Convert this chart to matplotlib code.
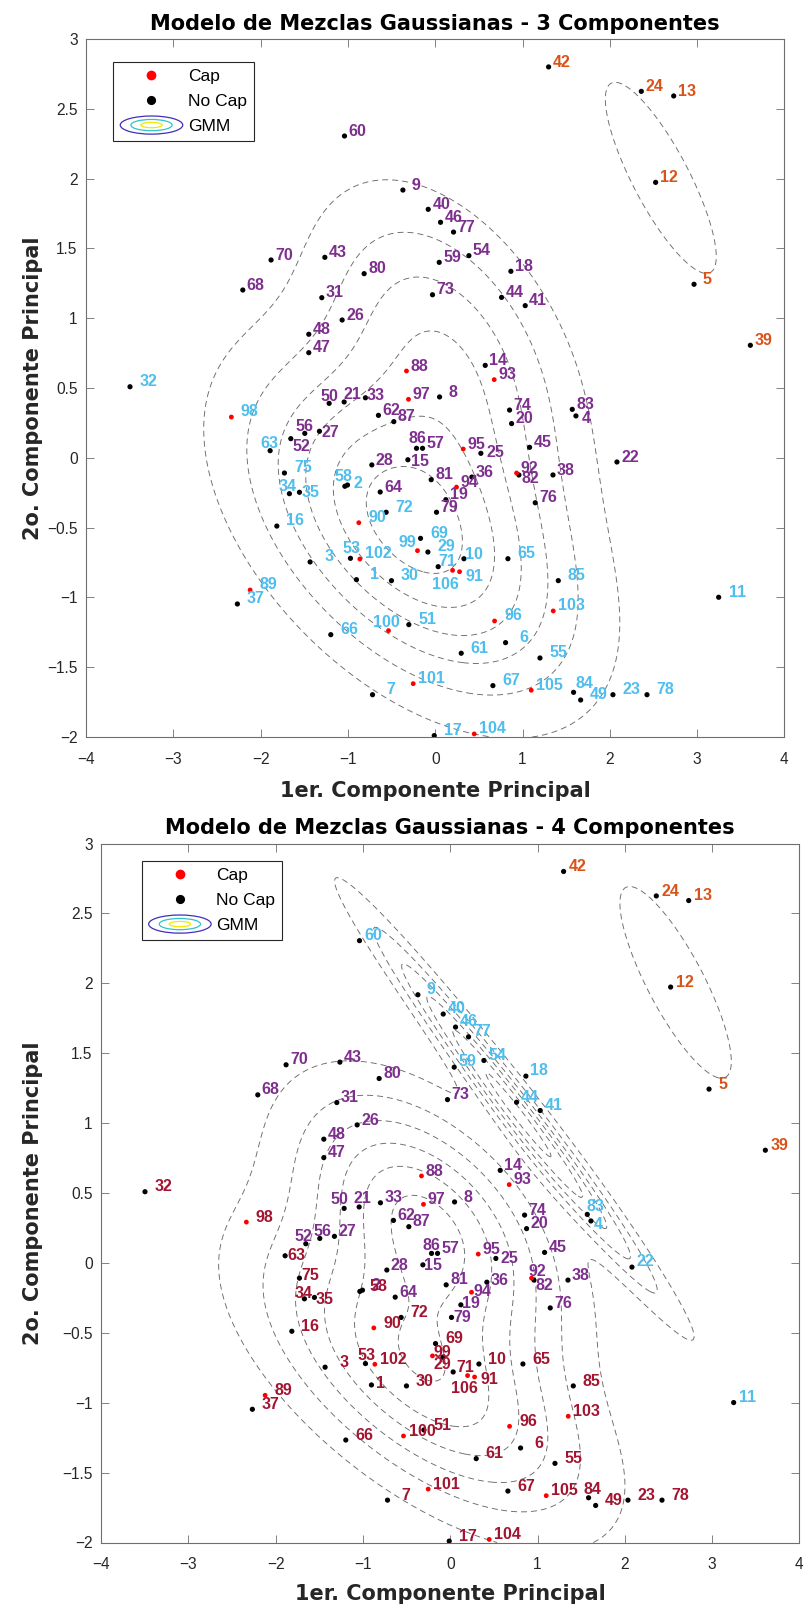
import numpy as np
import matplotlib
matplotlib.use("Agg")
import matplotlib.pyplot as plt
from matplotlib.lines import Line2D
from matplotlib.patches import Ellipse
from matplotlib.legend_handler import HandlerBase
from matplotlib.ticker import FuncFormatter, MultipleLocator

plt.rcParams["font.family"] = ["Liberation Sans", "DejaVu Sans"]
plt.rcParams["axes.unicode_minus"] = False
plt.rcParams["lines.scale_dashes"] = False

# ---------------------------------------------------------------- data
point_id = list(range(1, 107))

pc1 = [-0.902, -1.005, -1.433, 1.612, 2.965, 0.806, -0.718, 0.050, -0.370, 0.329,
       3.247, 2.525, 2.732, 0.573, -0.313, -1.814, -0.011, 0.867, 0.122, 0.875,
       -1.043, 2.082, 2.036, 2.361, 0.523, -1.066, -1.326, -0.726, -0.084, -0.501,
       -1.299, -3.496, -0.799, -1.670, -1.555, 0.420, -2.266, 1.349, 3.610, -0.080,
       1.031, 1.299, -1.264, 0.760, 1.081, 0.061, -1.448, -1.448, 1.666, -1.215,
       -0.302, -1.654, -0.971, 0.386, 1.200, -1.494, -0.145, -1.035, 0.046, -1.039,
       0.298, -0.650, -1.891, -0.630, 0.833, -1.196, 0.661, -2.204, -0.168, -1.880,
       0.034, -0.562, -0.031, 0.852, -1.727, 1.146, 0.210, 2.426, 0.015, -0.814,
       -0.046, 0.959, 1.570, 1.585, 1.410, -0.214, -0.474, -0.329, -2.120, -0.875,
       0.279, 0.932, 0.676, 0.244, 0.321, 0.680, -0.306, -2.335, -0.203, -0.535,
       -0.252, -0.863, 1.352, 0.447, 1.100, 0.199]

pc2 = [-0.873, -0.195, -0.746, 0.300, 1.243, -1.324, -1.697, 0.436, 1.918, -0.723,
       -0.999, 1.973, 2.592, 0.662, -0.014, -0.489, -1.990, 1.336, -0.300, 0.245,
       0.400, -0.030, -1.697, 2.625, 0.032, 0.987, 0.190, -0.051, -0.675, -0.880,
       1.147, 0.509, 0.430, -0.257, -0.247, -0.138, -1.047, -0.123, 0.806, 1.780,
       1.090, 2.800, 1.436, 1.149, 0.075, 1.687, 0.753, 0.885, -1.735, 0.390,
       -1.195, 0.137, -0.720, 1.448, -1.434, 0.175, 0.068, -0.204, 1.400, 2.305,
       -1.400, 0.304, 0.051, -0.245, -0.723, -1.267, -1.632, 1.202, -0.577, 1.417,
       -0.780, -0.390, 1.168, 0.342, -0.109, -0.322, 1.617, -1.697, -0.390, 1.319,
       -0.157, -0.123, 0.347, -1.680, -0.880, 0.068, 0.259, 0.622, -0.947, -0.465,
       -0.816, -0.109, 0.560, -0.210, 0.063, -1.169, 0.419, 0.292, -0.665, -1.238,
       -1.618, -0.725, -1.097, -1.978, -1.665, -0.806]

# 1 = Cap, 0 = No Cap
cap = [0] * 87 + [1] * 19

# cluster of every point: o = orange, p = purple, c = cyan, r = dark red
cluster_k3 = list(
    "cccpoccppc" "cooppccppp" "ppcoppppcc" "pcpccpcpop" "poppppppcp"
    "cpcpcppcpp" "cpcpcccpcp" "ccppcppcpp" "pppccpppcc" "cppppcpccc"
    "cccccc")
cluster_k4 = list(
    "rprcorrpcr" "coopprrcpp" "pcropppprr" "prprrprpoc" "copcpcpprp"
    "rprcrpprcc" "rprprrrprp" "rrpprpcrpp" "ppcrrppprr" "rpppprprrr"
    "rrrrrr")

colors = {"o": "#D95319", "p": "#7E2F8E", "c": "#4DBEEE", "r": "#A2142F"}

legend_labels = ["Cap", "No Cap", "GMM"]
titles = ["Modelo de Mezclas Gaussianas - 3 Componentes",
          "Modelo de Mezclas Gaussianas - 4 Componentes"]
xlabel = "1er. Componente Principal"
ylabel = "2o. Componente Principal"
contour_step = 0.02

# ------------------------------------------------------ label placement
label_offset_k3 = {"o": (13, 6), "p": (13, 6), "c": (18.5, 6.3)}
label_offset_k4 = {"o": (14, 6), "c": (13.5, 6.3), "p": (13, 6), "r": (18.5, 6)}
label_shift_k3 = {4: (10, -1.3), 50: (0, 8.3), 56: (0, 8.3), 27: (10.7, 0.3),
                  52: (11, -7), 21: (8, 8.7), 33: (10, 3.3), 86: (0.7, 10.7),
                  25: (15, 2.3), 15: (12.3, -1), 82: (11.3, -2.7), 63: (-0.7, 8.3),
                  34: (-2.3, 8), 35: (11.3, 0.7), 58: (-1.3, 11.3), 2: (10.7, 2.3),
                  99: (-10, 9), 10: (10.3, 5.3), 53: (1.3, 11), 71: (8.7, 6),
                  106: (-7.3, -12.7), 91: (14.7, -3.3), 100: (-2.3, 9.7),
                  84: (10.7, 10)}
label_shift_k4 = {50: (-4.3, 10.3), 21: (3.3, 9.7), 83: (8.3, 9), 4: (7.7, -2.7),
                  52: (-2.7, 8.3), 56: (2.7, 8.3), 63: (11, 1), 75: (10.7, 3.3),
                  34: (-1.3, 6.7), 35: (10.3, -0.7), 53: (0.7, 9.3), 1: (9, 3),
                  86: (0, 9.3), 15: (10, 0), 25: (13.3, 0.7), 36: (12.3, 2.7),
                  92: (5.7, 7.7), 82: (10.7, -4), 94: (11, 1.7), 19: (10, 2.3),
                  79: (10.3, 0.7), 99: (10.3, 4.7), 29: (-0.7, -5.7), 71: (11.7, 6),
                  106: (-3, -11.7), 91: (14.7, -1), 84: (4, 9.7)}


# ------------------------------------------------------------ GMM (EM)
def mvn_pdf(P, m, S):
    d = P - m
    Si = np.linalg.inv(S)
    q = np.einsum("ij,jk,ik->i", d, Si, d)
    return np.exp(-0.5 * q) / (2 * np.pi * np.sqrt(np.linalg.det(S)))


def fit_gmm(X, groups, n_iter=400):
    keys = sorted(set(groups))
    R = np.array([[1.0 if g == k else 0.0 for k in keys] for g in groups])
    for _ in range(n_iter):
        Nk = R.sum(0)
        w = Nk / len(X)
        mu = (R.T @ X) / Nk[:, None]
        cov = []
        for k in range(len(keys)):
            d = X - mu[k]
            cov.append((R[:, k, None] * d).T @ d / Nk[k] + 1e-6 * np.eye(2))
        dens = np.column_stack([w[k] * mvn_pdf(X, mu[k], cov[k])
                                for k in range(len(keys))])
        R = dens / dens.sum(1, keepdims=True)
    return w, mu, cov


def gmm_density(P, w, mu, cov):
    return sum(w[k] * mvn_pdf(P, mu[k], cov[k]) for k in range(len(w)))


X = np.column_stack([pc1, pc2])
gx = np.linspace(-4, 4, 481)
gy = np.linspace(-2, 3, 301)
GX, GY = np.meshgrid(gx, gy)
grid = np.column_stack([GX.ravel(), GY.ravel()])


# ------------------------------------------------------------- legend
class GMMHandler(HandlerBase):
    def create_artists(self, legend, orig_handle, xdescent, ydescent,
                       width, height, fontsize, trans):
        cx = width / 2 - xdescent
        cy = height / 2 - ydescent
        arts = []
        for fw, fh, col in [(1.0, 0.29, "#3E2FC0"), (0.66, 0.18, "#2FC4C8"),
                            (0.34, 0.085, "#F2E800")]:
            e = Ellipse((cx, cy), width * fw, width * fh, fill=False,
                        edgecolor=col, lw=0.9, transform=trans)
            arts.append(e)
        return arts


class GMMKey:
    pass


def tick_text(v, pos):
    return f"{v:g}".replace("-", "\u2212")


heading_font = dict(family=["DejaVu Sans"], fontsize=15, fontweight="bold")

# ------------------------------------------------------------- figure
fig = plt.figure(figsize=(8.08, 16.09), dpi=100)
W, H = 808.0, 1609.0

panels = [
    dict(rect=[86 / W, 1 - 737 / H, 698.4 / W, 698 / H], groups=cluster_k3,
         offs=label_offset_k3, shift=label_shift_k3, title=titles[0],
         leg=(113.3, 62.3), xlab=-0.063, ylab_px=31),
    dict(rect=[101 / W, 1 - 1542.5 / H, 698.4 / W, 699 / H], groups=cluster_k4,
         offs=label_offset_k4, shift=label_shift_k4, title=titles[1],
         leg=(141.7, 861.3), xlab=-0.0594, ylab_px=31),
]

for pn in panels:
    ax = fig.add_axes(pn["rect"])
    ax_left = pn["rect"][0] * W
    ax_top = (1 - pn["rect"][1] - pn["rect"][3]) * H
    ax_w = pn["rect"][2] * W
    ax_h = pn["rect"][3] * H

    w, mu, cov = fit_gmm(X, pn["groups"])
    Z = gmm_density(grid, w, mu, cov).reshape(GX.shape)
    levels = np.arange(contour_step, Z.max(), contour_step)
    cs = ax.contour(GX, GY, Z, levels=levels, colors="#6a6a6a",
                    linewidths=0.65, zorder=1)
    cs.set_linestyle((0, (4.3, 2.9)))

    dot_col = ["#FF0000" if c else "#000000" for c in cap]
    dot_size = [12 if c else 14 for c in cap]
    ax.scatter(pc1, pc2, s=dot_size, c=dot_col, edgecolors="none", zorder=3)

    for pid, x, y, g in zip(point_id, pc1, pc2, pn["groups"]):
        dx, dy = pn["shift"].get(pid, pn["offs"][g])
        ax.annotate(str(pid), (x, y), xytext=(dx, dy - 5.6),
                    textcoords="offset pixels", ha="center", va="baseline",
                    fontsize=11.5, fontweight="bold", color=colors[g],
                    zorder=4)

    ax.set_xlim(-4, 4)
    ax.set_ylim(-2, 3)
    ax.xaxis.set_major_locator(MultipleLocator(1))
    ax.yaxis.set_major_locator(MultipleLocator(0.5))
    ax.xaxis.set_major_formatter(FuncFormatter(tick_text))
    ax.yaxis.set_major_formatter(FuncFormatter(tick_text))
    ax.tick_params(axis="both", direction="in", length=6, width=0.6,
                   top=True, right=True, labelsize=11.2, colors="#6e6e6e",
                   labelcolor="#262626")
    ax.tick_params(axis="x", pad=10.5)
    ax.tick_params(axis="y", pad=6)
    for sp in ax.spines.values():
        sp.set_color("#6e6e6e")
        sp.set_linewidth(0.8)

    ax.set_title(pn["title"], pad=6.5, color="#000000", **heading_font)
    ax.set_xlabel(xlabel, color="#262626", **heading_font)
    ax.xaxis.set_label_coords(0.5, pn["xlab"])
    ax.set_ylabel(ylabel, color="#262626", **heading_font)
    ax.yaxis.set_label_coords((pn["ylab_px"] + 12 - ax_left) / ax_w, 0.5)

    handles = [
        Line2D([], [], ls="none", marker="o", ms=7, mfc="#FF0000", mec="none"),
        Line2D([], [], ls="none", marker="o", ms=6.6, mfc="#000000", mec="none"),
        GMMKey(),
    ]
    lx = (pn["leg"][0] - ax_left) / ax_w
    ly = 1 - (pn["leg"][1] - ax_top) / ax_h
    leg = ax.legend(handles, legend_labels, loc="upper left",
                    bbox_to_anchor=(lx, ly), borderaxespad=0,
                    handler_map={GMMKey: GMMHandler()}, fontsize=12.5,
                    handlelength=3.6, handletextpad=0.3, borderpad=0.4,
                    labelspacing=0.56, fancybox=False, framealpha=1,
                    edgecolor="#262626")
    leg.get_frame().set_linewidth(0.8)
    leg.set_zorder(10)

fig.savefig("out.png", dpi=100)
